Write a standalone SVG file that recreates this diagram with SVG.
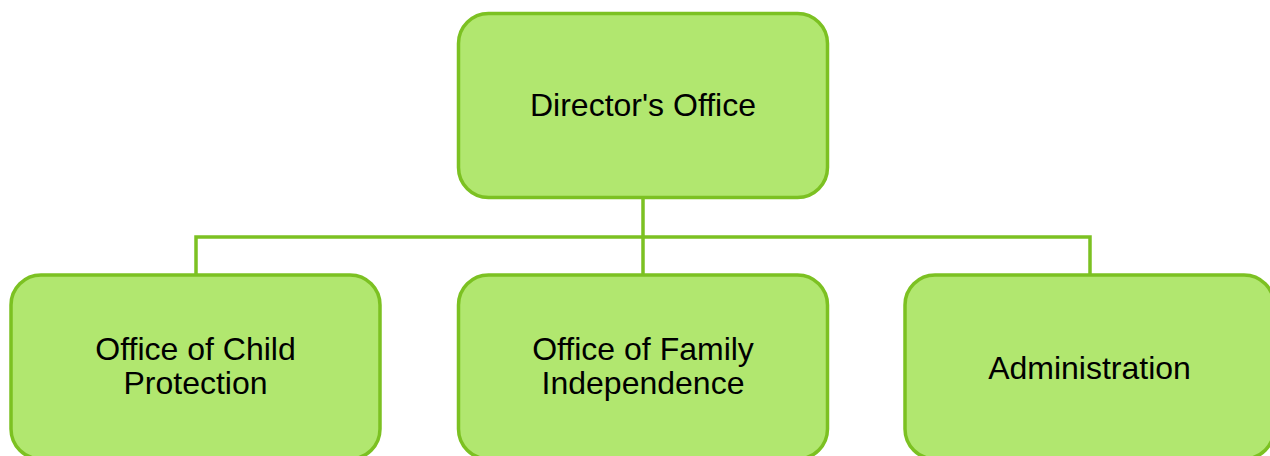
<svg xmlns="http://www.w3.org/2000/svg" width="1270" height="456" viewBox="0 0 1270 456">
<style>
.box{fill:#b1e76f;stroke:#7cc122;stroke-width:3.5}
.lbl{font-family:"Liberation Sans",Arial,sans-serif;font-size:32px;fill:#000;text-anchor:middle}
.conn{fill:none;stroke:#7cc122;stroke-width:3.5}
</style>
<rect width="1270" height="456" fill="#ffffff"/>
<g id="connectors">
<path class="conn" d="M643 197.5 V237 M196 275 V237 H1090 V275 M643 237 V275"/>
</g>
<g id="director">
<rect class="box" x="458.5" y="13.5" width="369" height="184" rx="30" ry="30"/>
<text class="lbl" x="643" y="116">Director's Office</text>
</g>
<g id="child">
<rect class="box" x="11" y="275" width="369" height="184" rx="30" ry="30"/>
<text class="lbl" x="195.5" y="360">Office of Child</text>
<text class="lbl" x="195.5" y="394">Protection</text>
</g>
<g id="family">
<rect class="box" x="458.5" y="275" width="369" height="184" rx="30" ry="30"/>
<text class="lbl" x="643" y="360">Office of Family</text>
<text class="lbl" x="643" y="394">Independence</text>
</g>
<g id="admin">
<rect class="box" x="905" y="275" width="369" height="184" rx="30" ry="30"/>
<text class="lbl" x="1089.5" y="379">Administration</text>
</g>
</svg>
